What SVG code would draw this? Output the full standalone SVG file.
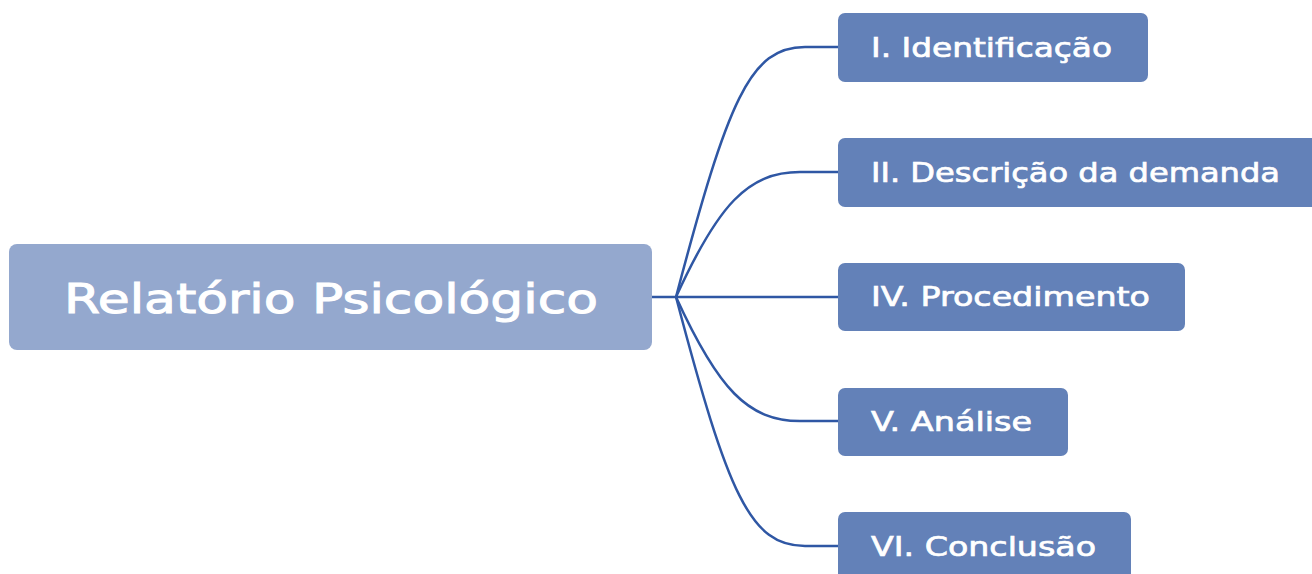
<svg xmlns="http://www.w3.org/2000/svg" width="1312" height="574" viewBox="0 0 1312 574">
<style>
.root{fill:#94a8ce}
.child{fill:#6381b8}
.t{fill:#ffffff;stroke:#ffffff;font-family:"DejaVu Sans","Liberation Sans",sans-serif;font-weight:normal}
.rt{font-size:41px;stroke-width:1}
.ct{font-size:27px;stroke-width:0.7}
.conn{fill:none;stroke:#2f57a4;stroke-width:2.5}
</style>
<rect width="1312" height="574" fill="#ffffff"/>
<g id="connectors">
<path class="conn" d="M652 297 H838"/>
<path class="conn" d="M676 297 C728 100 750 47 805 47 H838"/>
<path class="conn" d="M676 297 C718 205 748 172 800 172 H838"/>
<path class="conn" d="M676 297 C718 389 748 421 800 421 H838"/>
<path class="conn" d="M676 297 C728 494 750 546 805 546 H838"/>
</g>
<g id="root">
<rect class="root" x="9" y="244" width="643" height="106" rx="8"/>
<text class="t rt" x="64" y="313" textLength="534" lengthAdjust="spacingAndGlyphs">Relatório Psicológico</text>
</g>
<g id="n1">
<rect class="child" x="838" y="13" width="310" height="69" rx="7"/>
<text class="t ct" x="871" y="57" textLength="241" lengthAdjust="spacingAndGlyphs">I. Identificação</text>
</g>
<g id="n2">
<rect class="child" x="838" y="138" width="480" height="69" rx="7"/>
<text class="t ct" x="871" y="182" textLength="409" lengthAdjust="spacingAndGlyphs">II. Descrição da demanda</text>
</g>
<g id="n4">
<rect class="child" x="838" y="263" width="347" height="68" rx="7"/>
<text class="t ct" x="871" y="306" textLength="279" lengthAdjust="spacingAndGlyphs">IV. Procedimento</text>
</g>
<g id="n5">
<rect class="child" x="838" y="388" width="230" height="68" rx="7"/>
<text class="t ct" x="871" y="431" textLength="161" lengthAdjust="spacingAndGlyphs">V. Análise</text>
</g>
<g id="n6">
<rect class="child" x="838" y="512" width="293" height="72" rx="7"/>
<text class="t ct" x="871" y="556" textLength="225" lengthAdjust="spacingAndGlyphs">VI. Conclusão</text>
</g>
</svg>
